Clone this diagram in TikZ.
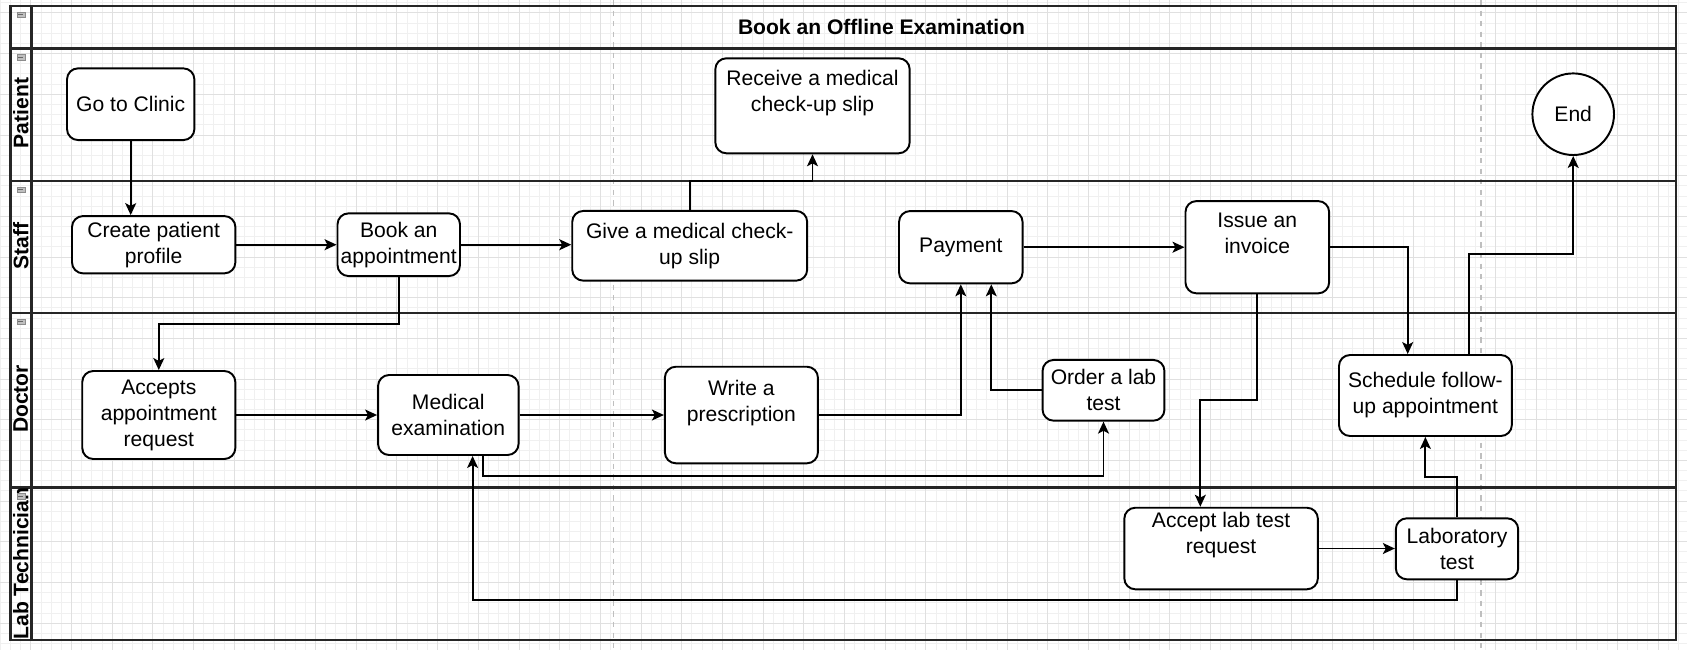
\documentclass[tikz,border=0pt]{standalone}
\usepackage{fontspec}
\setmainfont{Liberation Sans}
\usepackage{tikz}
\usetikzlibrary{arrows.meta,calc}

\begin{document}
\begin{tikzpicture}[x=0.02cm,y=-0.02cm,
  task/.style={draw, line width=1.1pt, rounded corners=0.22cm, fill=white,
    align=center, inner sep=1pt, font=\fontsize{12}{14.8}\selectfont},
  tasktext/.style={align=center, inner sep=0pt, font=\fontsize{12}{14.8}\selectfont},
  flow/.style={line width=1.1pt, -{Stealth[length=6.8pt,width=6.2pt,inset=1.6pt]}},
  lanerule/.style={line width=1.5pt, black!85},
  lanename/.style={rotate=90, font=\bfseries\fontsize{12}{14}\selectfont},
  minorgrid/.style={black!6, line width=0.5pt},
  majorgrid/.style={black!12, line width=0.5pt},
  pagebreak/.style={black!25, dashed, line width=0.6pt},
  fold/.style={fill=black!25, draw=black!45, line width=0.3pt}]

  \useasboundingbox (0,0) rectangle (1687,650);
  \fill[white] (0,0) rectangle (1687,650);

  % background grid
  \foreach \i in {0,...,165} \draw[minorgrid] ({0.29+10.17*\i},0) -- ++(0,650);
  \foreach \j in {0,...,63} \draw[minorgrid] (0,{2.73+10.17*\j}) -- ++(1687,0);
  \foreach \i in {0,...,40} \draw[majorgrid] ({30.8+40.68*\i},0) -- ++(0,650);
  \foreach \j in {0,...,15} \draw[majorgrid] (0,{12.9+40.68*\j}) -- ++(1687,0);

  % page breaks
  \draw[pagebreak] (613.9,0) -- (613.9,650);
  \draw[pagebreak] (1481,0) -- (1481,650);

  % pool and lanes
  \draw[lanerule] (10.3,6) rectangle (1675.8,640);
  \draw[lanerule] (31.4,6) -- (31.4,640);
  \foreach \y in {48.3,181,313,487.3} \draw[lanerule] (10.3,\y) -- (1675.8,\y);

  \node[font=\bfseries\fontsize{12}{14}\selectfont] (title) at (881.5,27) {Book an Offline Examination};
  \node[lanename] (patient) at (20.8,113) {Patient};
  \node[lanename] (staff) at (20.8,246) {Staff};
  \node[lanename] (doctor) at (20.8,399) {Doctor};
  \node[lanename] (labtech) at (20.8,563.6) {Lab Technician};

  % collapse markers
  \foreach \ty in {6,48.3,181,313,487.3} {
    \draw[fold] (16.8,\ty+6) rectangle (24.8,\ty+11.5);
    \draw[black!60, line width=0.4pt] (18.3,\ty+8.75) -- (23.3,\ty+8.75);
  }

  % patient
  \node[task, minimum width=2.548cm, minimum height=1.434cm] (clinic) at (130.7,104.2) {Go to Clinic};
  \node[task, minimum width=3.888cm, minimum height=1.9cm] (receive) at (812.5,105.8) {};
  \node[tasktext] (receive-t) at ([yshift=0.25cm]receive.center) {Receive a medical\\check-up slip};
  \node[task, circle, minimum size=1.632cm] (finish) at (1573.2,114.2) {End};

  % staff
  \node[task, minimum width=3.268cm, minimum height=1.146cm] (profile) at (153.7,244.7) {Create patient\\profile};
  \node[task, minimum width=2.45cm, minimum height=1.254cm] (book) at (398.75,244.7) {Book an\\appointment};
  \node[task, minimum width=4.7cm, minimum height=1.394cm] (slip) at (689.7,245.8) {Give a medical check-\\up slip};
  \node[task, minimum width=2.472cm, minimum height=1.446cm] (payment) at (960.8,247.2) {Payment};
  \node[task, minimum width=2.874cm, minimum height=1.846cm] (invoice) at (1257.3,247.2) {};
  \node[tasktext] (invoice-t) at ([yshift=0.27cm]invoice.center) {Issue an\\invoice};

  % doctor
  \node[task, minimum width=3.062cm, minimum height=1.76cm] (accept) at (158.8,415) {Accepts\\appointment\\request};
  \node[task, minimum width=2.81cm, minimum height=1.6cm] (exam) at (448.3,415) {Medical\\examination};
  \node[task, minimum width=3.062cm, minimum height=1.932cm] (rx) at (741.4,415) {};
  \node[tasktext] (rx-t) at ([yshift=0.245cm]rx.center) {Write a\\prescription};
  \node[task, minimum width=2.438cm, minimum height=1.214cm] (order) at (1103.5,390.3) {Order a lab\\test};
  \node[task, minimum width=3.458cm, minimum height=1.62cm] (followup) at (1425.4,395.5) {Schedule follow-\\up appointment};

  % lab technician
  \node[task, minimum width=3.872cm, minimum height=1.632cm] (labreq) at (1221.1,548.5) {};
  \node[tasktext] (labreq-t) at ([yshift=0.27cm]labreq.center) {Accept lab test\\request};
  \node[task, minimum width=2.448cm, minimum height=1.22cm] (labtest) at (1457,548.8) {Laboratory\\test};

  % flows
  \draw[flow] (clinic.south) -- (clinic.south |- profile.north);
  \draw[flow] (profile.east) -- (book.west);
  \draw[flow] (book.east) -- (book.east -| slip.west);
  \draw[flow] (slip.north) -- ++(0,-29.3) -| (receive.south);
  \draw[flow] (book.south) -- ++(0,47.3) -| (accept.north);
  \draw[flow] (accept.east) -- (exam.west);
  \draw[flow] (exam.east) -- (rx.west);
  \draw[flow] (rx.east) -| (payment.south);
  \draw[flow] (order.west) -| ([xshift=0.61cm]payment.south);
  \draw[flow] (payment.east) -- (invoice.west);
  \draw[flow] (invoice.east) -| ([xshift=-0.354cm]followup.north);
  \draw[flow] (invoice.south) -- ++(0,106) -| ([xshift=-0.416cm]labreq.north);
  \draw[flow] ([xshift=0.7cm]exam.south) -- ++(0,20) -| (order.south);
  \draw[flow] (labreq.east) -- (labreq.east -| labtest.west);
  \draw[flow] (labtest.north) -- ++(0,-40) -| (followup.south);
  \draw[flow] (labtest.south) -- ++(0,20) -| ([xshift=0.486cm]exam.south);
  \draw[flow] ([xshift=0.868cm]followup.north) -- ++(0,-100) -| (finish.south);
\end{tikzpicture}
\end{document}
